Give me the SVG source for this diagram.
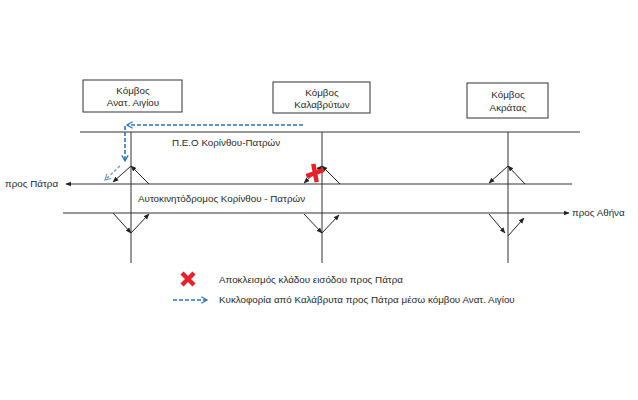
<svg xmlns="http://www.w3.org/2000/svg" width="638" height="400" viewBox="0 0 638 400">
<defs>
<marker id="ah" viewBox="0 0 10 10" refX="9" refY="5" markerWidth="6" markerHeight="6" orient="auto-start-reverse" markerUnits="userSpaceOnUse">
<path d="M0,1 L10,5 L0,9 z" fill="#222"/>
</marker>
<marker id="bh" viewBox="0 0 10 10" refX="8" refY="5" markerWidth="8" markerHeight="8" orient="auto" markerUnits="userSpaceOnUse">
<path d="M1,1 L8,5 L1,9" fill="none" stroke="#2E75B6" stroke-width="1.6"/>
</marker>
<marker id="lh" viewBox="0 0 10 10" refX="8" refY="5" markerWidth="8" markerHeight="8" orient="auto" markerUnits="userSpaceOnUse">
<path d="M1,1 L8,5 L1,9" fill="none" stroke="#6C93CF" stroke-width="1.4"/>
</marker>
</defs>
<style>
.road{stroke:#333;stroke-width:1;fill:none}
.ramp{stroke:#222;stroke-width:1;fill:none;marker-end:url(#ah)}
.box{fill:#fff;stroke:#333;stroke-width:1}
.t{font-family:"Liberation Sans","Noto Sans",sans-serif;font-size:9.8px;fill:#2a2a2a}
.c{text-anchor:middle}
.blue{stroke:#2E75B6;stroke-width:1.6;stroke-dasharray:4,2;fill:none;marker-end:url(#bh)}
.lblue{stroke:#6C93CF;stroke-width:1.3;stroke-dasharray:3,2;fill:none;marker-end:url(#lh)}
</style>
<rect width="638" height="400" fill="#fff"/>

<g id="roads">
<line class="road" x1="80" y1="132" x2="580" y2="132"/>
<line class="road" x1="572" y1="184" x2="66" y2="184" style="marker-end:url(#ah)"/>
<line class="road" x1="63" y1="213" x2="569" y2="213" style="marker-end:url(#ah)"/>
<line class="road" x1="131" y1="132" x2="131" y2="263"/>
<line class="road" x1="322" y1="132" x2="322" y2="263"/>
<line class="road" x1="508" y1="132" x2="508" y2="263"/>
</g>

<g id="node-aigio">
<rect class="box" x="83" y="80" width="99" height="32"/>
<text class="t c" x="133" y="94">Κόμβος</text>
<text class="t c" x="133" y="106">Ανατ. Αιγίου</text>
</g>
<g id="node-kalavryta">
<rect class="box" x="273" y="82" width="97" height="31"/>
<text class="t c" x="322" y="96">Κόμβος</text>
<text class="t c" x="322" y="108">Καλαβρύτων</text>
</g>
<g id="node-akrata">
<rect class="box" x="467" y="83" width="81" height="35"/>
<text class="t c" x="508" y="98">Κόμβος</text>
<text class="t c" x="508" y="111">Ακράτας</text>
</g>

<g id="labels">
<text class="t" x="172" y="146">Π.Ε.Ο Κορίνθου-Πατρών</text>
<text class="t" x="138" y="202">Αυτοκινητόδρομος Κορίνθου - Πατρών</text>
<text class="t" x="5" y="187">προς Πάτρα</text>
<text class="t" x="572" y="216">προς Αθήνα</text>
</g>

<g id="connectors">
<line class="ramp" x1="131" y1="166" x2="113" y2="182"/>
<line class="ramp" x1="149" y1="184" x2="131" y2="166"/>
<line class="ramp" x1="113" y1="213" x2="131" y2="233"/>
<line class="ramp" x1="131" y1="233" x2="149" y2="214"/>

<line class="ramp" x1="322" y1="166" x2="304" y2="183" style="marker-start:url(#ah)"/>
<line class="ramp" x1="340" y1="184" x2="322" y2="166"/>
<line class="ramp" x1="304" y1="214" x2="322" y2="233"/>
<line class="ramp" x1="322" y1="233" x2="339" y2="215"/>

<line class="ramp" x1="508" y1="166" x2="489" y2="183"/>
<line class="ramp" x1="525" y1="184" x2="508" y2="166"/>
<line class="ramp" x1="489" y1="214" x2="505" y2="233"/>
<line class="ramp" x1="508" y1="236" x2="524" y2="218"/>

<line class="blue" x1="303" y1="125" x2="127" y2="125"/>
<line class="blue" x1="125" y1="126" x2="125" y2="161"/>
<line class="lblue" x1="120" y1="166" x2="105" y2="180"/>
</g>

<g id="closure">
<path d="M309,166 L321,180 M321,166 L309,180" stroke="#E8202A" stroke-width="4.5" transform="rotate(30 315 173)"/>
</g>

<g id="legend">
<path d="M182,273 L194,285 M194,273 L182,285" stroke="#E8202A" stroke-width="4.5"/>
<text class="t" x="219" y="283">Αποκλεισμός κλάδου εισόδου προς Πάτρα</text>
<line class="blue" x1="173" y1="300" x2="207" y2="300"/>
<text class="t" x="219" y="303">Κυκλοφορία από Καλάβρυτα προς Πάτρα μέσω κόμβου Ανατ. Αιγίου</text>
</g>
</svg>
